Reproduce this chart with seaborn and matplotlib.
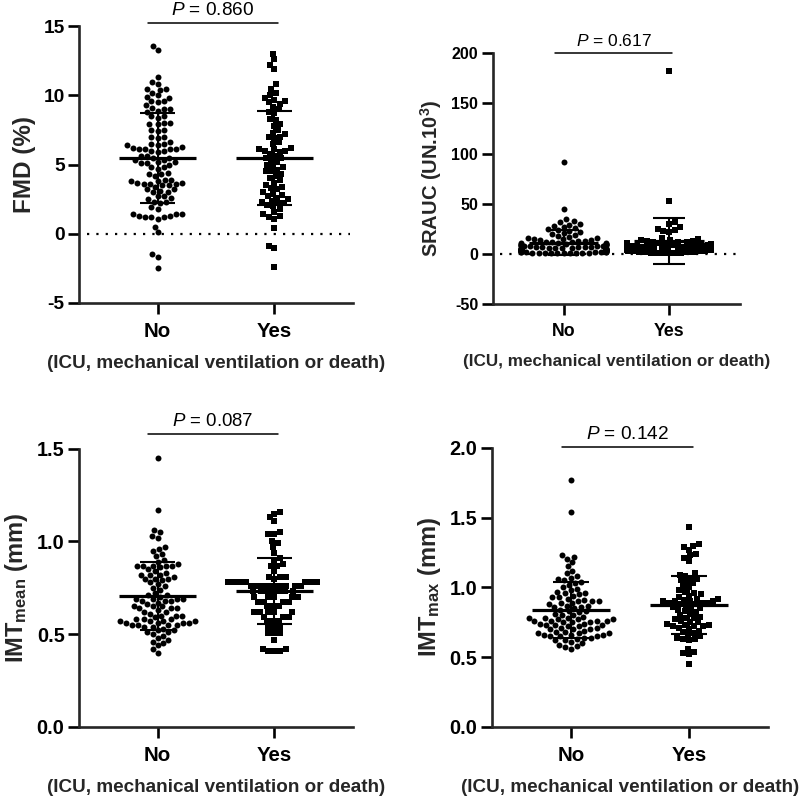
import numpy as np
import pandas as pd
import matplotlib
matplotlib.use("Agg")
import matplotlib.pyplot as plt
import seaborn as sns

sns.set_theme(style="ticks")
plt.rcParams['font.family'] = ['Liberation Sans', 'DejaVu Sans']
plt.rcParams['mathtext.fontset'] = 'custom'
plt.rcParams['mathtext.rm'] = 'Liberation Sans'
plt.rcParams['mathtext.it'] = 'Liberation Sans:italic'
plt.rcParams['mathtext.bf'] = 'Liberation Sans:bold'

groups = ["No", "Yes"]

fmd_no = [13.6, 13.3, 11.3, 11.0, 10.8, 10.5, 10.4, 10.5, 10.2, 10.0, 9.9, 9.8, 9.6, 9.5, 9.6, 9.3,
          9.1, 9.0, 9.0, 8.9, 8.8, 8.5, 8.4, 8.5, 8.0, 7.9, 8.0, 7.9, 7.5, 7.4, 7.5, 7.0, 7.0, 6.9,
          6.6, 6.5, 6.4, 6.4, 6.3, 6.5, 6.1, 6.1, 6.0, 6.1, 6.0, 6.2, 6.1, 5.9, 5.6, 5.5, 5.5, 5.6,
          5.3, 5.2, 5.1, 5.2, 5.3, 5.0, 5.1, 4.8, 4.7, 4.8, 4.3, 4.4, 4.3, 4.2, 3.9, 3.8, 3.9, 3.8,
          3.7, 3.7, 3.6, 3.6, 3.5, 3.6, 3.4, 3.5, 3.2, 3.2, 3.1, 3.0, 3.0, 2.7, 2.6, 2.7, 2.5, 2.3,
          2.3, 2.2, 1.9, 1.8, 1.4, 1.4, 1.4, 1.3, 1.3, 1.2, 1.2, 1.1, 1.2, 0.5, 0.1, -1.5, -1.7, -2.5]
fmd_yes = [13.0, 12.6, 12.2, 11.9, 10.8, 10.5, 10.2, 10.0, 9.8, 9.7, 9.6, 9.5, 9.4, 9.2, 9.0, 8.8,
           8.7, 8.3, 8.2, 7.9, 7.8, 7.5, 7.3, 7.2, 7.0, 7.0, 6.9, 6.6, 6.5, 6.2, 6.1, 6.0, 6.1, 6.0,
           5.9, 5.8, 5.6, 5.5, 5.5, 5.3, 5.2, 5.0, 4.9, 4.8, 4.6, 4.5, 4.5, 4.3, 4.2, 4.0, 3.9, 3.7,
           3.5, 3.4, 3.3, 3.2, 3.0, 2.9, 2.8, 2.7, 2.6, 2.5, 2.4, 2.3, 2.2, 2.2, 2.1, 2.0, 1.8, 1.6,
           1.4, 1.3, 1.2, 1.1, 0.4, -0.9, -1.0, -2.4]

srauc_no = [92, 45, 35, 33, 32, 30, 29, 28, 27, 26, 25, 24, 23, 22, 21, 20, 19, 18, 17, 16, 16, 15,
            15, 14, 14, 13, 13, 12, 12, 12, 11, 11, 11, 10, 10, 10, 10, 9, 9, 9, 9, 8, 8, 8, 8, 8,
            7, 7, 7, 7, 7, 6, 6, 6, 6, 6, 6, 5, 5, 5, 5, 5, 5, 5, 4, 4, 4, 4, 4, 4, 4, 3, 3, 3, 3,
            3, 3, 3, 2, 2, 2, 2, 2, 2, 2, 1, 1, 1, 1, 1, 1, 0.5, 0.5, 0.5, 0.3]
srauc_yes = [182, 53, 32, 30, 27, 25, 24, 23, 22, 16, 15, 14, 14, 13, 13, 12, 12, 12, 11, 11, 11,
             10, 10, 10, 10, 9, 9, 9, 9, 8, 8, 8, 8, 8, 7, 7, 7, 7, 7, 6, 6, 6, 6, 6, 5, 5, 5, 5,
             5, 4, 4, 4, 4, 3, 3, 3, 3, 2, 2, 2, 2, 1, 1, 1, 1, 0.5, 0.5]

imtmean_no = [1.45, 1.17, 1.06, 1.05, 1.03, 1.02, 0.97, 0.96, 0.95, 0.93, 0.92, 0.90, 0.89, 0.88,
              0.87, 0.87, 0.87, 0.87, 0.87, 0.86, 0.85, 0.84, 0.83, 0.82, 0.82, 0.82, 0.81, 0.80,
              0.80, 0.80, 0.79, 0.78, 0.77, 0.76, 0.75, 0.74, 0.72, 0.71, 0.71, 0.70, 0.69, 0.69,
              0.69, 0.69, 0.68, 0.68, 0.68, 0.67, 0.66, 0.65, 0.65, 0.65, 0.64, 0.64, 0.64, 0.63,
              0.62, 0.62, 0.61, 0.60, 0.60, 0.60, 0.59, 0.58, 0.58, 0.58, 0.57, 0.57, 0.57, 0.57,
              0.56, 0.56, 0.56, 0.56, 0.55, 0.55, 0.55, 0.55, 0.54, 0.54, 0.53, 0.52, 0.52, 0.51,
              0.51, 0.50, 0.49, 0.48, 0.47, 0.46, 0.45, 0.44, 0.42, 0.40]
imtmean_yes = [1.16, 1.15, 1.13, 1.11, 1.05, 1.04, 1.04, 1.00, 0.99, 0.97, 0.94, 0.91, 0.90, 0.88,
               0.87, 0.865, 0.84, 0.81, 0.81, 0.81, 0.80, 0.78, 0.78, 0.78, 0.78, 0.78, 0.78, 0.78,
               0.76, 0.76, 0.76, 0.76, 0.76, 0.76, 0.76, 0.76, 0.76, 0.73, 0.73, 0.73, 0.73, 0.73,
               0.73, 0.73, 0.70, 0.70, 0.70, 0.70, 0.70, 0.675, 0.675, 0.675, 0.675, 0.65, 0.65,
               0.65, 0.62, 0.62, 0.62, 0.62, 0.62, 0.595, 0.595, 0.595, 0.57, 0.57, 0.57, 0.54,
               0.54, 0.54, 0.505, 0.505, 0.505, 0.47, 0.42, 0.42, 0.41, 0.41, 0.41]

imtmax_no = [1.77, 1.54, 1.23, 1.22, 1.20, 1.18, 1.15, 1.12, 1.10, 1.08, 1.07, 1.06, 1.05, 1.04,
             1.03, 1.02, 1.00, 0.99, 0.98, 0.97, 0.96, 0.96, 0.95, 0.94, 0.93, 0.93, 0.92, 0.91,
             0.90, 0.90, 0.90, 0.89, 0.89, 0.88, 0.87, 0.87, 0.86, 0.86, 0.85, 0.84, 0.83, 0.83,
             0.82, 0.81, 0.80, 0.80, 0.79, 0.78, 0.78, 0.78, 0.77, 0.77, 0.77, 0.76, 0.76, 0.76,
             0.76, 0.75, 0.75, 0.75, 0.74, 0.74, 0.73, 0.73, 0.73, 0.72, 0.72, 0.71, 0.71, 0.70,
             0.70, 0.70, 0.69, 0.68, 0.68, 0.67, 0.67, 0.67, 0.66, 0.66, 0.66, 0.65, 0.65, 0.65,
             0.64, 0.64, 0.63, 0.62, 0.62, 0.61, 0.60, 0.59, 0.58, 0.57, 0.56]
imtmax_yes = [1.43, 1.31, 1.30, 1.29, 1.27, 1.24, 1.23, 1.21, 1.19, 1.10, 1.09, 1.08, 1.07, 1.06,
              1.05, 1.04, 1.03, 1.01, 1.00, 0.98, 0.97, 0.96, 0.95, 0.94, 0.93, 0.92, 0.91, 0.90,
              0.90, 0.90, 0.89, 0.89, 0.89, 0.88, 0.88, 0.87, 0.86, 0.85, 0.85, 0.84, 0.83, 0.82,
              0.81, 0.80, 0.79, 0.78, 0.78, 0.77, 0.76, 0.75, 0.75, 0.74, 0.73, 0.73, 0.72, 0.72,
              0.72, 0.71, 0.70, 0.69, 0.68, 0.67, 0.66, 0.65, 0.64, 0.63, 0.63, 0.62, 0.90, 0.92,
              0.56, 0.54, 0.53, 0.52, 0.45]

p_values = ["0.860", "0.617", "0.087", "0.142"]

panels = [
    dict(no=fmd_no, yes=fmd_yes, ylabel="FMD (%)", ylim=(-5, 15), ticks=[-5, 0, 5, 10, 15],
         fmt="{:g}", pline=15.25, zero=True, pos=[0.099, 0.620, 0.342, 0.347],
         fs=dict(yt=13.8, xt=14.8, yl=17.5, xl=13.6, p=13.7)),
    dict(no=srauc_no, yes=srauc_yes, ylabel=r"SRAUC (UN.10$^\mathbf{3}$)", ylim=(-50, 200),
         ticks=[-50, 0, 50, 100, 150, 200], fmt="{:g}", pline=200.5, zero=True,
         pos=[0.616, 0.619, 0.309, 0.314],
         fs=dict(yt=11.5, xt=12.8, yl=14.5, xl=12.3, p=12.5)),
    dict(no=imtmean_no, yes=imtmean_yes, ylabel=r"IMT$_\mathbf{mean}$ (mm)", ylim=(0, 1.5),
         ticks=[0, 0.5, 1.0, 1.5], fmt="{:.1f}", pline=1.58, zero=False,
         pos=[0.099, 0.088, 0.342, 0.349],
         fs=dict(yt=14.3, xt=14.8, yl=17, xl=13.6, p=13.4)),
    dict(no=imtmax_no, yes=imtmax_yes, ylabel=r"IMT$_\mathbf{max}$ (mm)", ylim=(0, 2.0),
         ticks=[0, 0.5, 1.0, 1.5, 2.0], fmt="{:.1f}", pline=2.01, zero=False,
         pos=[0.615, 0.088, 0.345, 0.350],
         fs=dict(yt=14.3, xt=14.8, yl=17, xl=13.6, p=13.7)),
]

fig = plt.figure(figsize=(8.0, 7.97), dpi=100)

for pnl, pv in zip(panels, p_values):
    fs = pnl["fs"]
    ax = fig.add_axes(pnl["pos"])
    df = pd.DataFrame({"group": ["No"] * len(pnl["no"]) + ["Yes"] * len(pnl["yes"]),
                       "value": pnl["no"] + pnl["yes"]})
    sns.swarmplot(data=df[df.group == "No"], x="group", y="value", order=groups, ax=ax,
                  color="black", marker="o", size=4.3, linewidth=0, warn_thresh=1.0)
    sns.swarmplot(data=df[df.group == "Yes"], x="group", y="value", order=groups, ax=ax,
                  color="black", marker="s", size=4.1, linewidth=0, warn_thresh=1.0)
    for i, g in enumerate(groups):
        v = np.array(pnl["no"] if g == "No" else pnl["yes"], dtype=float)
        m, s = v.mean(), v.std(ddof=1)
        ax.hlines(m, i - 0.33, i + 0.33, color="black", lw=2.3, zorder=5)
        ax.vlines(i, m - s, m + s, color="black", lw=1.5, zorder=5)
        ax.hlines([m - s, m + s], i - 0.15, i + 0.15, color="black", lw=1.5, zorder=5)
    if pnl["zero"]:
        ax.hlines(0, -0.6, 1.65, color="black", lw=1.6, linestyles=(0, (1, 3.2)), zorder=1)
    ax.set_xlim(-0.67, 1.67)
    ax.set_ylim(*pnl["ylim"])
    ax.set_yticks(pnl["ticks"])
    ax.set_yticklabels([pnl["fmt"].format(t) for t in pnl["ticks"]], fontsize=fs["yt"], fontweight="bold")
    ax.set_xticks([0, 1])
    ax.set_xticklabels(groups, fontsize=fs["xt"], fontweight="bold")
    ax.set_xlabel("(ICU, mechanical ventilation or death)", fontsize=fs["xl"], fontweight="bold", labelpad=10)
    ax.set_ylabel(pnl["ylabel"], fontsize=fs["yl"], fontweight="bold", labelpad=5)
    for sp in ["top", "right"]:
        ax.spines[sp].set_visible(False)
    for sp in ["left", "bottom"]:
        ax.spines[sp].set_linewidth(1.9)
    ax.tick_params(axis="both", length=8, width=1.9, pad=2.5, colors="black")
    ax.tick_params(axis="x", pad=6)
    ax.plot([-0.08, 1.03], [pnl["pline"]] * 2, color="black", lw=1.1, clip_on=False)
    ax.annotate(r"$\it{P}$ = " + pv, xy=(0.475, pnl["pline"]), xycoords="data",
                xytext=(0, 2.5), textcoords="offset points",
                ha="center", va="bottom", fontsize=fs["p"], color="black", annotation_clip=False)

fig.savefig("out.png", dpi=100, facecolor="white")
